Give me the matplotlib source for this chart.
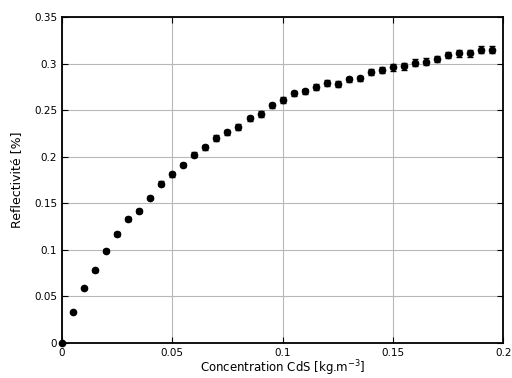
import numpy as np
import matplotlib
matplotlib.use('Agg')
import matplotlib.pyplot as plt
from matplotlib.ticker import FuncFormatter

# --- Données ---
concentration = [0.000, 0.005, 0.010, 0.015, 0.020, 0.025, 0.030, 0.035, 0.040, 0.045,
                 0.050, 0.055, 0.060, 0.065, 0.070, 0.075, 0.080, 0.085, 0.090, 0.095,
                 0.100, 0.105, 0.110, 0.115, 0.120, 0.125, 0.130, 0.135, 0.140, 0.145,
                 0.150, 0.155, 0.160, 0.165, 0.170, 0.175, 0.180, 0.185, 0.190, 0.195]
reflectivite = [0.000, 0.033, 0.059, 0.078, 0.099, 0.117, 0.133, 0.142, 0.156, 0.171,
                0.181, 0.191, 0.202, 0.210, 0.220, 0.226, 0.232, 0.241, 0.246, 0.255,
                0.261, 0.268, 0.270, 0.275, 0.279, 0.278, 0.283, 0.284, 0.291, 0.293,
                0.296, 0.297, 0.301, 0.302, 0.305, 0.309, 0.311, 0.311, 0.315, 0.315]
erreur = [0.000, 0.001, 0.001, 0.0015, 0.0015, 0.002, 0.002, 0.002, 0.002, 0.0025,
          0.0025, 0.0025, 0.0025, 0.003, 0.003, 0.003, 0.003, 0.003, 0.003, 0.003,
          0.003, 0.003, 0.003, 0.003, 0.003, 0.003, 0.003, 0.003, 0.0035, 0.0035,
          0.0035, 0.0035, 0.0035, 0.0035, 0.0035, 0.0035, 0.0035, 0.0035, 0.0035, 0.0035]

fig = plt.figure(figsize=(5.12, 3.78), dpi=100)
ax = fig.add_axes([0.121, 0.093, 0.862, 0.862])

ax.errorbar(concentration, reflectivite, yerr=erreur, fmt='o', color='black',
            markersize=4.5, capsize=2.5, elinewidth=1, capthick=1, clip_on=False, zorder=3)

ax.set_xlim(0, 0.2)
ax.set_ylim(0, 0.35)
ax.set_xticks([0, 0.05, 0.1, 0.15, 0.2])
ax.set_yticks(np.arange(0, 0.351, 0.05))
fmt = FuncFormatter(lambda v, p: '%g' % round(v, 3))
ax.xaxis.set_major_formatter(fmt)
ax.yaxis.set_major_formatter(fmt)

ax.grid(True, color='#b8b8b8', linewidth=0.8)
ax.set_axisbelow(True)
ax.tick_params(direction='in', top=True, right=True, labelsize=7.5, length=4, width=0.8)
for s in ax.spines.values():
    s.set_linewidth(1.3)

ax.set_xlabel('Concentration CdS [kg.m$^{-3}$]', fontsize=8.5, labelpad=0.5)
ax.set_ylabel('Reflectivité [%]', fontsize=9, labelpad=8)

fig.savefig('out.png', dpi=100)
